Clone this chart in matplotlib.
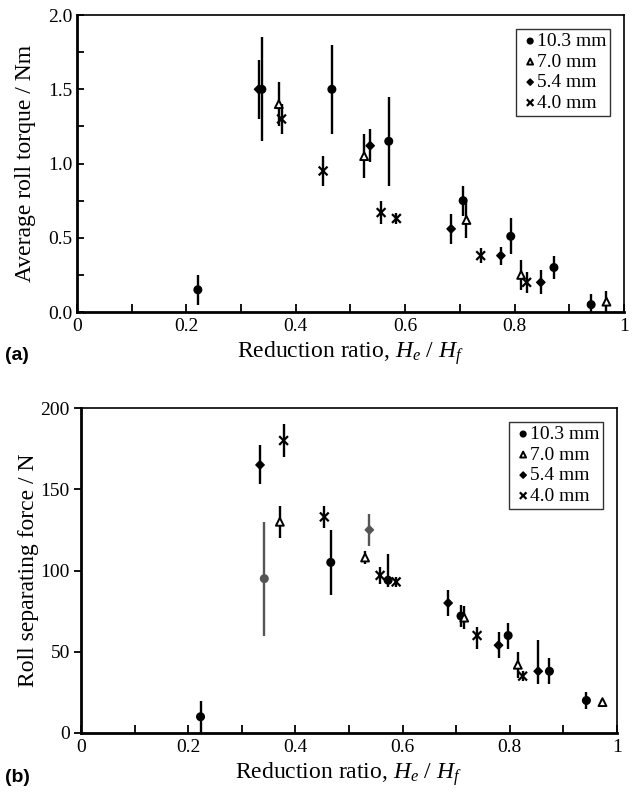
import numpy as np
import matplotlib
matplotlib.use('Agg')
import matplotlib.pyplot as plt
from matplotlib.ticker import MultipleLocator, FormatStrFormatter

plt.rcParams['font.family'] = ['Liberation Serif', 'DejaVu Serif']
plt.rcParams['mathtext.fontset'] = 'custom'
plt.rcParams['mathtext.rm'] = 'Liberation Serif'
plt.rcParams['mathtext.it'] = 'Liberation Serif:italic'

#--Data: (a) average roll torque / Nm--#
labels = ['10.3 mm', '7.0 mm', '5.4 mm', '4.0 mm']

ta_x_103 = [0.221, 0.338, 0.466, 0.570, 0.706, 0.793, 0.872, 0.940]
ta_y_103 = [0.15, 1.50, 1.50, 1.15, 0.75, 0.51, 0.30, 0.05]
ta_e_103 = [0.10, 0.35, 0.30, 0.30, 0.10, 0.12, 0.08, 0.07]

ta_x_70 = [0.369, 0.525, 0.712, 0.812, 0.968]
ta_y_70 = [1.40, 1.05, 0.62, 0.25, 0.07]
ta_e_70 = [0.15, 0.15, 0.12, 0.10, 0.07]

ta_x_54 = [0.332, 0.536, 0.684, 0.775, 0.848]
ta_y_54 = [1.50, 1.12, 0.56, 0.38, 0.20]
ta_e_54 = [0.20, 0.11, 0.10, 0.06, 0.08]

ta_x_40 = [0.374, 0.450, 0.556, 0.584, 0.738, 0.822]
ta_y_40 = [1.30, 0.95, 0.67, 0.63, 0.38, 0.20]
ta_e_40 = [0.10, 0.10, 0.08, 0.04, 0.05, 0.07]

#--Data: (b) roll separating force / N (lower, upper errors)--#
fb_x_103 = [0.223, 0.342, 0.466, 0.573, 0.709, 0.797, 0.874, 0.943]
fb_y_103 = [10, 95, 105, 94, 72, 60, 38, 20]
fb_lo_103 = [10, 35, 20, 4, 7, 8, 8, 5]
fb_hi_103 = [10, 35, 20, 16, 7, 8, 8, 5]
fb_c_103 = ['k', '#555555', 'k', 'k', 'k', 'k', 'k', 'k']

fb_x_70 = [0.371, 0.530, 0.715, 0.815, 0.973]
fb_y_70 = [130, 108, 71, 42, 19]
fb_lo_70 = [10, 4, 7, 8, 2]
fb_hi_70 = [10, 4, 7, 8, 2]
fb_c_70 = ['k'] * 5

fb_x_54 = [0.334, 0.538, 0.685, 0.779, 0.853]
fb_y_54 = [165, 125, 80, 54, 38]
fb_lo_54 = [12, 10, 8, 8, 8]
fb_hi_54 = [12, 10, 8, 8, 19]
fb_c_54 = ['k', '#555555', 'k', 'k', 'k']

fb_x_40 = [0.378, 0.454, 0.558, 0.588, 0.739, 0.824]
fb_y_40 = [180, 133, 97, 93, 60, 35]
fb_lo_40 = [10, 7, 5, 3, 8, 3]
fb_hi_40 = [10, 7, 5, 3, 5, 3]
fb_c_40 = ['k'] * 6

styles = [
    dict(marker='o', s=30, facecolor='k'),
    dict(marker='^', s=32, facecolor='white'),
    dict(marker='D', s=18, facecolor='k'),
    dict(marker='x', s=40, facecolor='k'),
]


def draw_series(ax, x, y, lo, hi, cols, style, label):
    eb = ax.errorbar(x, y, yerr=[lo, hi], fmt='none', ecolor='k',
                     elinewidth=1.7, capsize=0, zorder=2, clip_on=True)
    eb[2][0].set_color(cols)
    if style['marker'] == 'x':
        ax.scatter(x, y, marker='x', s=style['s'], c=cols, linewidths=1.6,
                   label=label, zorder=3)
    elif style['facecolor'] == 'white':
        ax.scatter(x, y, marker=style['marker'], s=style['s'], facecolors='white',
                   edgecolors=cols, linewidths=1.4, label=label, zorder=3)
    else:
        ax.scatter(x, y, marker=style['marker'], s=style['s'], c=cols,
                   edgecolors=cols, label=label, zorder=3)


def style_axes(ax, ydir):
    ax.set_xlim(0, 1)
    ax.xaxis.set_minor_locator(MultipleLocator(0.1))
    ax.set_xticks([0, 0.2, 0.4, 0.6, 0.8, 1.0])
    ax.set_xticklabels(['0', '0.2', '0.4', '0.6', '0.8', '1'])
    ax.tick_params(axis='x', which='both', direction='in', length=6, width=1.3,
                   top=False, labelsize=14, pad=4)
    ax.tick_params(axis='y', which='both', direction=ydir, length=5, width=1.3,
                   right=False, labelsize=14, pad=3)
    for side in ['left', 'bottom']:
        ax.spines[side].set_linewidth(2.0)
    for side in ['top', 'right']:
        ax.spines[side].set_linewidth(1.2)
    ax.set_xlabel('Reduction ratio, $H_e$ / $H_f$', fontsize=17, labelpad=3)
    leg = ax.legend(loc='upper right', fontsize=14, frameon=True, fancybox=False,
                    handletextpad=-0.2, borderpad=0.2, labelspacing=0.15,
                    handlelength=1.1, borderaxespad=0.7, markerscale=0.75)
    leg.get_frame().set_edgecolor('k')
    leg.get_frame().set_linewidth(1.0)


fig = plt.figure(figsize=(6.32, 7.92), dpi=100)
ax1 = fig.add_axes([0.1218, 0.606, 0.8655, 0.375])
ax2 = fig.add_axes([0.1282, 0.0745, 0.848, 0.4103])

# (a) torque
top_sets = [
    (ta_x_103, ta_y_103, ta_e_103),
    (ta_x_70, ta_y_70, ta_e_70),
    (ta_x_54, ta_y_54, ta_e_54),
    (ta_x_40, ta_y_40, ta_e_40),
]
for (x, y, e), st, lab in zip(top_sets, styles, labels):
    draw_series(ax1, x, y, e, e, ['k'] * len(x), st, lab)
ax1.set_ylim(0, 2.0)
ax1.yaxis.set_major_locator(MultipleLocator(0.5))
ax1.yaxis.set_minor_locator(MultipleLocator(0.25))
ax1.yaxis.set_major_formatter(FormatStrFormatter('%.1f'))
style_axes(ax1, 'in')
ax1.set_ylabel('Average roll torque / Nm', fontsize=17, labelpad=9)
fig.text(0.008, 0.546, '(a)', fontsize=14, fontweight='bold',
         family=['Liberation Sans', 'DejaVu Sans'])

# (b) separating force
bot_sets = [
    (fb_x_103, fb_y_103, fb_lo_103, fb_hi_103, fb_c_103),
    (fb_x_70, fb_y_70, fb_lo_70, fb_hi_70, fb_c_70),
    (fb_x_54, fb_y_54, fb_lo_54, fb_hi_54, fb_c_54),
    (fb_x_40, fb_y_40, fb_lo_40, fb_hi_40, fb_c_40),
]
for (x, y, lo, hi, c), st, lab in zip(bot_sets, styles, labels):
    draw_series(ax2, x, y, lo, hi, c, st, lab)
ax2.set_ylim(0, 200)
ax2.yaxis.set_major_locator(MultipleLocator(50))
ax2.yaxis.set_minor_locator(MultipleLocator(50))
style_axes(ax2, 'out')
ax2.set_ylabel('Roll separating force / N', fontsize=17, labelpad=1)
fig.text(0.008, 0.012, '(b)', fontsize=14, fontweight='bold',
         family=['Liberation Sans', 'DejaVu Sans'])

fig.savefig('out.png', dpi=100)
